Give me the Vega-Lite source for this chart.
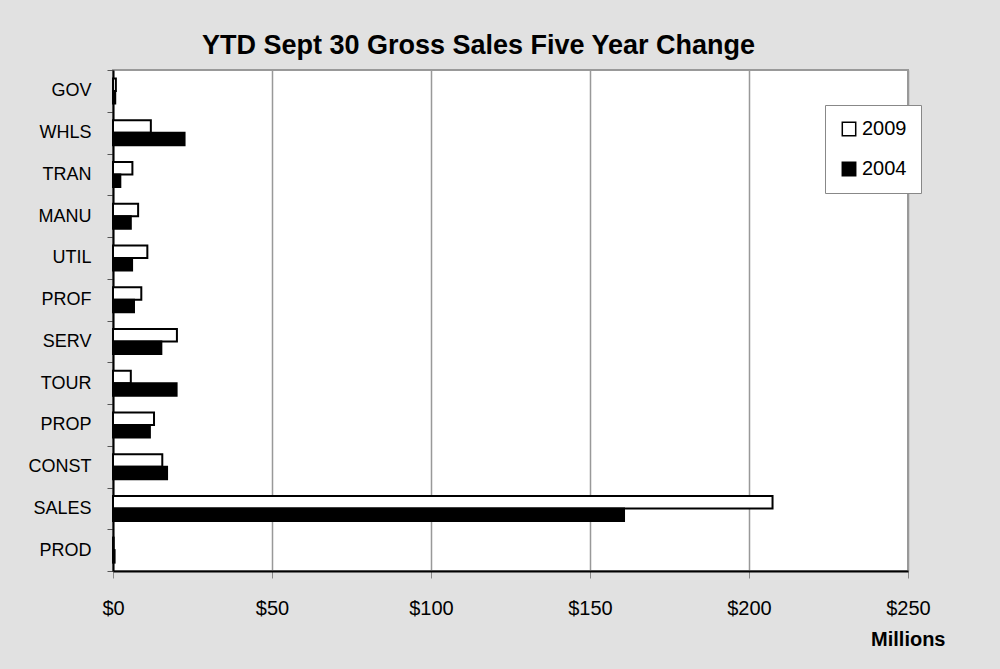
{
  "$schema": "https://vega.github.io/schema/vega-lite/v6.json",
  "width": 795,
  "height": 501,
  "autosize": {"type": "none"},
  "padding": {"left": 113, "top": 70, "right": 92, "bottom": 98},
  "background": "#e1e1e1",
  "title": {
    "text": "YTD Sept 30 Gross Sales Five Year Change",
    "font": "Liberation Sans",
    "fontSize": 27,
    "fontWeight": "bold",
    "color": "black",
    "anchor": "middle",
    "frame": "group",
    "dx": -32,
    "dy": 34,
    "offset": 14,
    "baseline": "alphabetic"
  },
  "data": {
    "values": [
      {"category": "GOV", "year": "2009", "sales": 0.9},
      {"category": "GOV", "year": "2004", "sales": 0.7},
      {"category": "WHLS", "year": "2009", "sales": 11.9},
      {"category": "WHLS", "year": "2004", "sales": 22.5},
      {"category": "TRAN", "year": "2009", "sales": 6.1},
      {"category": "TRAN", "year": "2004", "sales": 2.3},
      {"category": "MANU", "year": "2009", "sales": 7.9},
      {"category": "MANU", "year": "2004", "sales": 5.6},
      {"category": "UTIL", "year": "2009", "sales": 10.8},
      {"category": "UTIL", "year": "2004", "sales": 6.0},
      {"category": "PROF", "year": "2009", "sales": 8.9},
      {"category": "PROF", "year": "2004", "sales": 6.6},
      {"category": "SERV", "year": "2009", "sales": 20.1},
      {"category": "SERV", "year": "2004", "sales": 15.2},
      {"category": "TOUR", "year": "2009", "sales": 5.6},
      {"category": "TOUR", "year": "2004", "sales": 20.0},
      {"category": "PROP", "year": "2009", "sales": 12.9},
      {"category": "PROP", "year": "2004", "sales": 11.6},
      {"category": "CONST", "year": "2009", "sales": 15.5},
      {"category": "CONST", "year": "2004", "sales": 17.0},
      {"category": "SALES", "year": "2009", "sales": 207.4},
      {"category": "SALES", "year": "2004", "sales": 160.7},
      {"category": "PROD", "year": "2009", "sales": 0.2},
      {"category": "PROD", "year": "2004", "sales": 0.5}
    ]
  },
  "mark": {"type": "bar", "stroke": "black", "strokeWidth": 2},
  "encoding": {
    "y": {
      "field": "category",
      "type": "nominal",
      "sort": ["GOV", "WHLS", "TRAN", "MANU", "UTIL", "PROF", "SERV", "TOUR", "PROP", "CONST", "SALES", "PROD"],
      "scale": {"paddingInner": 0, "paddingOuter": 0},
      "axis": {
        "title": null,
        "tickBand": "extent",
        "tickSize": 6,
        "tickColor": "#555",
        "domainColor": "black",
        "domainWidth": 2,
        "labelFont": "Liberation Sans",
        "labelFontSize": 18,
        "labelColor": "black",
        "labelPadding": 16,
        "grid": false
      }
    },
    "yOffset": {
      "field": "year",
      "type": "nominal",
      "sort": ["2009", "2004"],
      "scale": {"paddingInner": 0, "paddingOuter": 0.67}
    },
    "x": {
      "field": "sales",
      "type": "quantitative",
      "scale": {"domain": [0, 250], "nice": false},
      "axis": {
        "title": "Millions",
        "values": [0, 50, 100, 150, 200, 250],
        "labelExpr": "'$' + datum.value",
        "labelFlush": false,
        "labelOverlap": false,
        "labelFont": "Liberation Sans",
        "labelFontSize": 20,
        "labelColor": "black",
        "labelPadding": 20,
        "tickSize": 7,
        "tickColor": "#888",
        "domainColor": "black",
        "domainWidth": 2,
        "grid": true,
        "gridColor": "#999",
        "gridWidth": 1.5,
        "titleFont": "Liberation Sans",
        "titleFontSize": 20,
        "titleFontWeight": "bold",
        "titleColor": "black",
        "titleAnchor": "end",
        "titleAlign": "right",
        "titleX": 832,
        "titleY": 74,
        "titleBaseline": "alphabetic"
      }
    },
    "fill": {
      "field": "year",
      "type": "nominal",
      "scale": {"domain": ["2009", "2004"], "range": ["white", "black"]},
      "legend": {
        "title": null,
        "orient": "none",
        "legendX": 712,
        "legendY": 35,
        "fillColor": "white",
        "strokeColor": "#888",
        "padding": 14,
        "symbolType": "square",
        "symbolSize": 180,
        "symbolStrokeColor": "black",
        "symbolStrokeWidth": 1.5,
        "labelFont": "Liberation Sans",
        "labelFontSize": 20,
        "labelColor": "black",
        "labelOffset": 3,
        "rowPadding": 20
      }
    }
  },
  "config": {
    "view": {"fill": "white", "stroke": "#999", "strokeWidth": 2},
    "font": "Liberation Sans"
  }
}
